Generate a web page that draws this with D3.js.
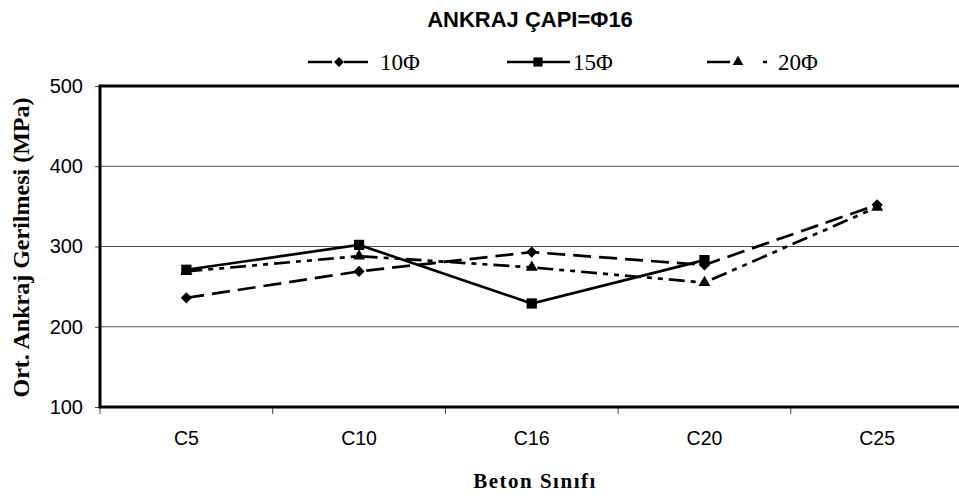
<!DOCTYPE html>
<html>
<head>
<meta charset="utf-8">
<script src="https://cdn.jsdelivr.net/npm/d3@7"></script>
<style>
  html, body { margin: 0; padding: 0; background: #fff; }
  svg { display: block; }
</style>
</head>
<body>
<svg id="chart" width="959" height="498"></svg>
<script>
// Concrete classes on the x axis
const categories = ["C5", "C10", "C16", "C20", "C25"];
// Mean anchorage stress (MPa) for three embedment lengths
const series10 = [236, 269, 293, 277, 352];
const series15 = [271, 302, 229, 283, null];
const series20 = [269, 288, 274, 255, 349];
const seriesNames = ["10\u03A6", "15\u03A6", "20\u03A6"];
const yTicks = [100, 200, 300, 400, 500];

const svg = d3.select("#chart");
const plotLeft = 100, plotTop = 86, plotBottom = 407, plotRight = 963.5;

const x = d3.scalePoint().domain(categories).range([plotLeft, plotRight]).padding(0.5);
const xBand = d3.scaleBand().domain(categories).range([plotLeft, plotRight]);
const y = d3.scaleLinear().domain([100, 500]).range([plotBottom, plotTop]);

// horizontal gridlines
svg.append("g").selectAll("line").data(yTicks.slice(1, -1)).join("line")
  .attr("x1", plotLeft).attr("x2", 959)
  .attr("y1", d => y(d)).attr("y2", d => y(d))
  .attr("stroke", "#555").attr("stroke-width", 1);

// y axis
const yAxis = svg.append("g").attr("transform", `translate(${plotLeft},0)`)
  .call(d3.axisLeft(y).tickValues(yTicks).tickSize(5).tickPadding(12));
yAxis.select(".domain").remove();
yAxis.selectAll(".tick line").attr("stroke", "#444");
yAxis.selectAll("text").attr("font-family", "Liberation Sans, Arial, sans-serif")
  .attr("font-size", 20).attr("fill", "#000");

// x axis: ticks sit on the band boundaries
const xAxis = svg.append("g").attr("transform", `translate(0,${plotBottom})`);
xAxis.selectAll("line").data(categories).join("line")
  .attr("x1", d => xBand(d)).attr("x2", d => xBand(d))
  .attr("y1", 0).attr("y2", 7).attr("stroke", "#444");
xAxis.selectAll("text").data(categories).join("text")
  .attr("x", d => x(d)).attr("y", 38)
  .attr("text-anchor", "middle")
  .attr("font-family", "Liberation Sans, Arial, sans-serif")
  .attr("font-size", 19.5).text(d => d);

// plot frame: left, top, bottom
svg.append("path")
  .attr("d", `M${plotRight},${plotTop}H${plotLeft}V${plotBottom}H${plotRight}`)
  .attr("fill", "none").attr("stroke", "#000").attr("stroke-width", 3);

// the diamond is a square turned by 45 degrees
const styles = [
  { data: series10, dash: "18,8", legendDash: "24,12,24", marker: d3.symbolSquare, size: 62, rotate: 45 },
  { data: series15, dash: null, legendDash: null, marker: d3.symbolSquare, size: 105, rotate: 0 },
  { data: series20, dash: "16,6,5,6,5,6", legendDash: "23,33,5,100", marker: d3.symbolTriangle, size: 62, rotate: 0 }
];

const line = d3.line()
  .defined(d => d.v != null)
  .x(d => x(d.c)).y(d => y(d.v));

styles.forEach(s => {
  const pts = categories.map((c, i) => ({ c, v: s.data[i] }));
  svg.append("path").datum(pts)
    .attr("d", line)
    .attr("fill", "none").attr("stroke", "#000").attr("stroke-width", 2.7)
    .attr("stroke-dasharray", s.dash);
  svg.append("g").selectAll("path").data(pts.filter(d => d.v != null)).join("path")
    .attr("transform", d => `translate(${x(d.c)},${y(d.v)}) rotate(${s.rotate})`)
    .attr("d", d3.symbol().type(s.marker).size(s.size))
    .attr("fill", "#000");
});

// title
svg.append("text").attr("x", 530).attr("y", 27).attr("text-anchor", "middle")
  .attr("font-family", "Liberation Sans, Arial, sans-serif")
  .attr("font-weight", "bold").attr("font-size", 22)
  .text("ANKRAJ \u00C7API=\u03A616");

// legend
const legendX = [308, 507, 707];
const legendTextX = [380, 573, 778];
const legendY = 62;
styles.forEach((s, i) => {
  const g = svg.append("g").attr("transform", `translate(${legendX[i]},${legendY})`);
  g.append("line").attr("x1", 0).attr("x2", i === 1 ? 63 : 60).attr("y1", 0).attr("y2", 0)
    .attr("stroke", "#000").attr("stroke-width", 2.7)
    .attr("stroke-dasharray", s.legendDash);
  g.append("path").attr("transform", `translate(${i === 2 ? 31 : 31},0) rotate(${s.rotate})`)
    .attr("d", d3.symbol().type(s.marker).size(s.size * 0.8)).attr("fill", "#000");
  svg.append("text").attr("x", legendTextX[i]).attr("y", legendY + 8)
    .attr("font-family", "Liberation Serif, Times New Roman, serif")
    .attr("font-size", 23).text(seriesNames[i]);
});

// axis titles
svg.append("text")
  .attr("transform", `translate(29,${(plotTop + plotBottom) / 2 + 1}) rotate(-90)`)
  .attr("text-anchor", "middle")
  .attr("font-family", "Liberation Serif, Times New Roman, serif")
  .attr("font-weight", "bold").attr("font-size", 24)
  .text("Ort. Ankraj Gerilmesi (MPa)");

svg.append("text").attr("x", 535).attr("y", 488).attr("text-anchor", "middle")
  .attr("font-family", "Liberation Serif, Times New Roman, serif")
  .attr("font-weight", "bold").attr("font-size", 21)
  .attr("letter-spacing", 1.5)
  .text("Beton Sınıfı");
</script>
</body>
</html>
